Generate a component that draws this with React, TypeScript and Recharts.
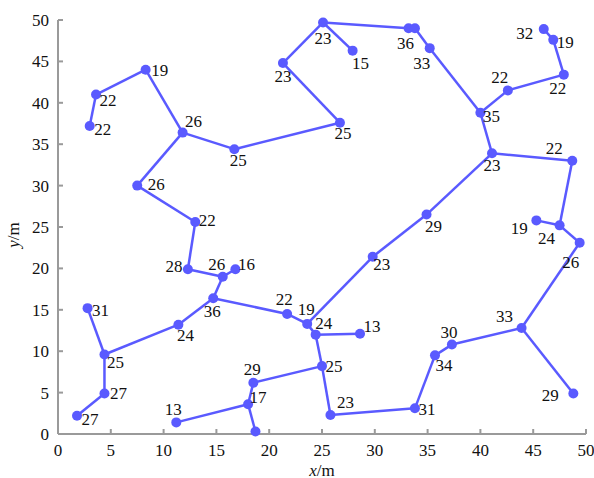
import { ScatterChart, Scatter, XAxis, YAxis, ReferenceLine, Label } from 'recharts';

// ---------------------------------------------------------------------------
// Data
// ---------------------------------------------------------------------------

const NODE_X = [
  3.0, 3.6, 8.3, 11.8, 16.7, 7.5, 13.0, 12.3, 15.6, 16.8,
  14.7, 21.7, 11.4, 2.8, 4.4, 4.4, 1.8, 18.5, 18.0, 11.2,
  18.7, 21.3, 25.1, 27.9, 33.2, 33.8, 35.2, 40.0, 42.6, 47.9,
  46.9, 46.0, 41.1, 48.7, 34.9, 45.3, 47.5, 49.4, 29.8, 23.6,
  24.4, 28.6, 25.0, 25.8, 33.8, 35.7, 37.3, 43.9, 48.8, 26.7,
];
const NODE_Y = [
  37.2, 41.0, 44.0, 36.4, 34.4, 30.0, 25.6, 19.9, 19.0, 19.9,
  16.4, 14.5, 13.2, 15.2, 9.6, 4.9, 2.2, 6.2, 3.6, 1.4,
  0.3, 44.8, 49.7, 46.3, 49.0, 49.0, 46.6, 38.8, 41.5, 43.4,
  47.6, 48.9, 33.9, 33.0, 26.5, 25.8, 25.2, 23.1, 21.4, 13.3,
  12.0, 12.1, 8.2, 2.3, 3.1, 9.5, 10.8, 12.8, 4.9, 37.6,
];
const NODE_LABEL = [
  '22', '22', '19', '26', '25', '26', '22', '28', '26', '16',
  '36', '22', '24', '31', '25', '27', '27', '29', '17', '13',
  '', '23', '23', '15', '36', '', '33', '35', '22', '22',
  '19', '32', '23', '22', '29', '19', '24', '26', '23', '19',
  '24', '13', '25', '23', '31', '34', '30', '33', '29', '25',
];

const EDGE_FROM = [
  0, 1, 2, 3, 3, 5, 6, 7, 8, 8, 10, 10, 11, 12, 14, 14, 15,
  4, 49, 21, 22, 22, 24, 25, 26, 27, 28, 29, 30, 27, 32, 33, 36, 36,
  37, 47, 47, 46, 45, 44, 43, 42, 40, 40, 39, 38, 34, 42, 17, 18, 18,
];
const EDGE_TO = [
  1, 2, 3, 4, 5, 6, 7, 8, 9, 10, 12, 11, 39, 14, 13, 15, 16,
  49, 21, 22, 23, 24, 25, 26, 27, 28, 29, 30, 31, 32, 33, 36, 35, 37,
  47, 48, 46, 45, 44, 43, 42, 40, 41, 39, 38, 34, 32, 17, 18, 19, 20,
];

const X_TICKS = [0, 5, 10, 15, 20, 25, 30, 35, 40, 45, 50];
const Y_TICKS = [0, 5, 10, 15, 20, 25, 30, 35, 40, 45, 50];

// label placement: text centre relative to the marker, in px
const LABEL_DX = [
  13, 12, 14, 11, 4, 19, 12, -14, -6, 11,
  -1, -3, 7, 13, 11, 14, 13, -1, 10, -3,
  0, 0, 0, 8, -3, 0, -8, 11, -8, -6,
  12, -19, 0, -18, 7, -17, -13, -9, 9, -1,
  8, 12, 12, 15, 12, 9, -3, -17, -23, 3,
];
const LABEL_DY = [
  4, 6, 1, -11, 11, -1, -2, -3, -12, -5,
  13, -14, 11, 2, 8, 0, 4, -13, -7, -13,
  0, 13, 16, 13, 15, 0, 15, 4, -13, 14,
  3, 4, 12, -12, 12, 8, 13, 20, 8, -14,
  -11, -7, 0, -12, 1, 10, -12, -12, 2, 11,
];

// ---------------------------------------------------------------------------
// Styles
// ---------------------------------------------------------------------------

const BLUE = '#5a5aff';
const AXIS = '#9a9a9a';
const FONT = 'Liberation Serif, DejaVu Serif, serif';

const nodes = NODE_X.map((x, i) => ({ x, y: NODE_Y[i], label: NODE_LABEL[i], id: i }));

const NodeShape = (props: any) => {
  const { cx, cy, payload } = props;
  const i = payload.id;
  return (
    <g>
      <circle cx={cx} cy={cy} r={5} fill={BLUE} />
      {payload.label && (
        <text
          x={cx + LABEL_DX[i]}
          y={cy + LABEL_DY[i]}
          textAnchor="middle"
          dominantBaseline="central"
          fontSize={17}
          style={{ fontFamily: FONT }}
          fill="#111"
        >
          {payload.label}
        </text>
      )}
    </g>
  );
};

const tickStyle = { fontSize: 17, fill: '#111', fontFamily: FONT };

export default function App() {
  return (
    <div style={{ position: 'absolute', left: 0, top: 0, background: '#fff', fontFamily: FONT }}>
      <ScatterChart
        width={594}
        height={478}
        margin={{ top: 20, right: 8, bottom: 0, left: 0 }}
        style={{ fontFamily: FONT }}
      >
        <XAxis
          type="number"
          dataKey="x"
          domain={[0, 50]}
          ticks={X_TICKS}
          interval={0}
          height={44}
          tickSize={-5}
          tickMargin={15}
          tick={tickStyle}
          stroke={AXIS}
          strokeWidth={2}
        >
          <Label
            content={(p: any) => (
              <text
                x={p.viewBox.x + p.viewBox.width / 2}
                y={p.viewBox.y + 36}
                textAnchor="middle"
                dominantBaseline="central"
                fontSize={17}
                style={{ fontFamily: FONT }}
                fill="#111"
              >
                <tspan fontStyle="italic">x</tspan>/m
              </text>
            )}
          />
        </XAxis>
        <YAxis
          type="number"
          dataKey="y"
          domain={[0, 50]}
          ticks={Y_TICKS}
          interval={0}
          width={58}
          tickSize={-5}
          tickMargin={14}
          tick={tickStyle}
          stroke={AXIS}
          strokeWidth={2}
        >
          <Label
            content={(p: any) => {
              const cx = 13;
              const cy = p.viewBox.y + p.viewBox.height / 2 + 8;
              return (
                <text
                  x={cx}
                  y={cy}
                  transform={`rotate(-90 ${cx} ${cy})`}
                  textAnchor="middle"
                  dominantBaseline="central"
                  fontSize={17}
                  style={{ fontFamily: FONT }}
                  fill="#111"
                >
                  <tspan fontStyle="italic">y</tspan>/m
                </text>
              );
            }}
          />
        </YAxis>
        <XAxis
          xAxisId="top"
          orientation="top"
          type="number"
          domain={[0, 50]}
          ticks={X_TICKS}
          height={0}
          tickSize={-5}
          tick={false}
          stroke={AXIS}
          strokeWidth={1.5}
        />
        <YAxis
          yAxisId="right"
          orientation="right"
          type="number"
          domain={[0, 50]}
          ticks={Y_TICKS}
          width={0}
          tickSize={-5}
          tick={false}
          stroke={AXIS}
          strokeWidth={1.5}
        />
        {EDGE_FROM.map((a, k) => {
          const b = EDGE_TO[k];
          return (
            <ReferenceLine
              key={k}
              segment={[
                { x: NODE_X[a], y: NODE_Y[a] },
                { x: NODE_X[b], y: NODE_Y[b] },
              ]}
              stroke={BLUE}
              strokeWidth={2.5}
              ifOverflow="visible"
            />
          );
        })}
        <Scatter data={nodes} shape={NodeShape} isAnimationActive={false} />
      </ScatterChart>
    </div>
  );
}
